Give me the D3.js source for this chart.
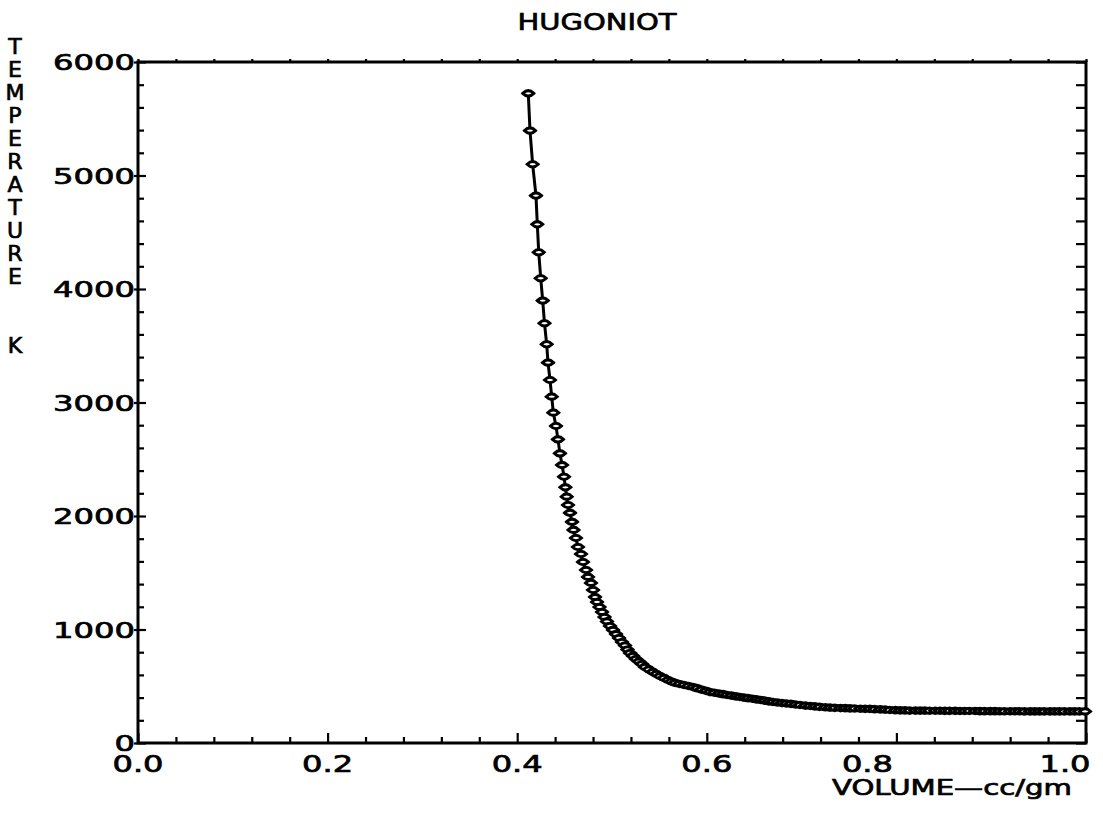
<!DOCTYPE html>
<html>
<head>
<meta charset="utf-8">
<script src="https://cdn.jsdelivr.net/npm/d3@7"></script>
<style>
  html, body { margin: 0; padding: 0; background: #fff; }
  svg { display: block; }
  text { font-family: "DejaVu Sans", "Liberation Sans", sans-serif; fill: #000; stroke: #000; stroke-width: 0.7; }
</style>
</head>
<body>
<svg id="chart" width="1103" height="823"></svg>
<script>
// ---- data ----
const title = "HUGONIOT";
const yLabel = "TEMPERATURE  K";
const xLabel = "VOLUME\u2014cc/gm";

const xMajorTicks = [0.0, 0.2, 0.4, 0.6, 0.8, 1.0];
const xTickLabels = ["0.0", "0.2", "0.4", "0.6", "0.8", "1.0"];
const yMajorTicks = [0, 1000, 2000, 3000, 4000, 5000, 6000];
const yTickLabels = ["0", "1000", "2000", "3000", "4000", "5000", "6000"];

// Volume (cc/gm) of each plotted point
const volume = [
  0.4117, 0.4135, 0.4163, 0.4198, 0.4212, 0.4227, 0.4248, 0.4269, 0.4288, 0.4311,
  0.4325, 0.4346, 0.4364, 0.4381, 0.4409, 0.4430, 0.4451, 0.4473, 0.4494, 0.4508,
  0.4522, 0.4536, 0.4557, 0.4578, 0.4594, 0.4620, 0.4641, 0.4673, 0.4694, 0.4726,
  0.4747, 0.4778, 0.4800, 0.4821, 0.4842, 0.4868, 0.4895, 0.4921, 0.4947, 0.4979,
  0.5011, 0.5042, 0.5074, 0.5105, 0.5137, 0.5163, 0.5190, 0.5222, 0.5253, 0.5285,
  0.5316, 0.5348, 0.5390, 0.5432, 0.5469, 0.5506, 0.5549, 0.5591, 0.5628, 0.5665,
  0.5712, 0.5759, 0.5807, 0.5854, 0.5897, 0.5944, 0.5992, 0.6034, 0.6081, 0.6129,
  0.6171, 0.6213, 0.6261, 0.6308, 0.6350, 0.6392, 0.6435, 0.6482, 0.6524, 0.6566,
  0.6609, 0.6656, 0.6698, 0.6746, 0.6793, 0.6841, 0.6888, 0.6936, 0.6983, 0.704,
  0.709, 0.714, 0.719, 0.725, 0.730, 0.735, 0.741, 0.746, 0.751, 0.756,
  0.762, 0.767, 0.772, 0.777, 0.783, 0.788, 0.793, 0.799, 0.804, 0.809,
  0.814, 0.820, 0.825, 0.830, 0.835, 0.841, 0.846, 0.851, 0.856, 0.862,
  0.867, 0.872, 0.877, 0.883, 0.888, 0.893, 0.899, 0.904, 0.909, 0.914,
  0.920, 0.925, 0.930, 0.935, 0.941, 0.946, 0.951, 0.956, 0.962, 0.967,
  0.972, 0.977, 0.983, 0.988, 0.993, 0.999
];
// Temperature (K) of each plotted point
const temperature = [
  5724, 5395, 5099, 4823, 4570, 4324, 4095, 3898, 3698, 3513,
  3351, 3198, 3051, 2910, 2793, 2675, 2552, 2449, 2346, 2253,
  2170, 2097, 2027, 1948, 1877, 1806, 1727, 1665, 1595, 1524,
  1463, 1410, 1348, 1286, 1242, 1198, 1154, 1110, 1071, 1031,
  996, 960, 925, 890, 859, 824, 793, 767, 740, 718,
  696, 670, 648, 626, 608, 590, 573, 555, 542, 529,
  520, 511, 502, 493, 483, 471, 460, 449, 443, 436,
  430, 423, 417, 411, 405, 400, 395, 390, 384, 379,
  374, 367, 361, 357, 352, 348, 344, 339, 335, 330,
  326, 323, 318, 315, 312, 310, 308, 307, 305, 304,
  302, 301, 300, 298, 296, 294, 291, 289, 288, 287,
  286, 286, 285, 285, 284, 284, 284, 283, 283, 283,
  282, 282, 282, 282, 281, 281, 281, 281, 280, 280,
  280, 280, 280, 279, 279, 279, 279, 279, 279, 278,
  278, 278, 278, 278, 278, 278
];

// ---- drawing ----
const svg = d3.select("#chart");
const W = 1103, H = 823;
const margin = { left: 138, right: W - 1086, top: 62, bottom: H - 743 };

const x = d3.scaleLinear().domain([0, 1]).range([margin.left, W - margin.right]);
const y = d3.scaleLinear().domain([0, 6000]).range([H - margin.bottom, margin.top]);

const xMinor = d3.range(0, 26).map(i => i * 0.04).filter(v => !xMajorTicks.some(m => Math.abs(m - v) < 1e-9));
const yMinor = d3.range(0, 31).map(i => i * 200).filter(v => v % 1000 !== 0);
const yAll = d3.range(0, 31).map(i => i * 200);
const xAll = d3.range(0, 26).map(i => i * 0.04);

const axisStyle = g => {
  g.select(".domain").remove();
  g.selectAll(".tick line").attr("stroke", "#000").attr("stroke-width", 2.2);
  g.selectAll(".tick text").remove();
};

// bottom axis ticks (inward)
svg.append("g").attr("transform", `translate(0,${y(0)})`)
  .call(d3.axisBottom(x).tickValues(xMinor).tickSize(-6).tickFormat(""))
  .call(axisStyle);
svg.append("g").attr("transform", `translate(0,${y(0)})`)
  .call(d3.axisBottom(x).tickValues(xMajorTicks).tickSize(-10).tickFormat(""))
  .call(axisStyle);
// top axis small ticks
svg.append("g").attr("transform", `translate(0,${y(6000)})`)
  .call(d3.axisTop(x).tickValues(xAll).tickSize(3).tickFormat(""))
  .call(axisStyle);
// left axis ticks
svg.append("g").attr("transform", `translate(${x(0)},0)`)
  .call(d3.axisLeft(y).tickValues(yMinor).tickSize(-6).tickFormat(""))
  .call(axisStyle);
svg.append("g").attr("transform", `translate(${x(0) + 8},0)`)
  .call(d3.axisLeft(y).tickValues(yMajorTicks).tickSize(12).tickFormat(""))
  .call(axisStyle);
// right axis ticks (inward)
svg.append("g").attr("transform", `translate(${x(1)},0)`)
  .call(d3.axisRight(y).tickValues(yAll).tickSize(-10).tickFormat(""))
  .call(axisStyle);

// frame
svg.append("rect")
  .attr("x", x(0)).attr("y", y(6000))
  .attr("width", x(1) - x(0)).attr("height", y(0) - y(6000))
  .attr("fill", "none").attr("stroke", "#000").attr("stroke-width", 3);

// tick labels
const charW = 20.5;
svg.append("g").selectAll("text").data(yMajorTicks).join("text")
  .attr("x", x(0) - 3)
  .attr("y", d => y(d) + 8)
  .attr("text-anchor", "end")
  .attr("font-size", 22)
  .attr("textLength", (d, i) => yTickLabels[i].length * charW)
  .attr("lengthAdjust", "spacingAndGlyphs")
  .text((d, i) => yTickLabels[i]);

// x tick labels: the plotter pulls the last labels left of their ticks
const xLabW = 51;
const xLabelX = d => d < 0.7 ? x(d) : (d < 0.9 ? x(d) - 29 : x(d) - 21);
svg.append("g").selectAll("text").data(xMajorTicks).join("text")
  .attr("x", xLabelX)
  .attr("y", 772)
  .attr("text-anchor", "middle")
  .attr("font-size", 23)
  .attr("textLength", xLabW)
  .attr("lengthAdjust", "spacingAndGlyphs")
  .text((d, i) => xTickLabels[i]);

// title
svg.append("text")
  .attr("x", 597).attr("y", 30)
  .attr("text-anchor", "middle")
  .attr("font-size", 23)
  .attr("textLength", 159)
  .attr("lengthAdjust", "spacingAndGlyphs")
  .text(title);

// x label
svg.append("text")
  .attr("x", 832).attr("y", 795)
  .attr("font-size", 21)
  .attr("textLength", 240)
  .attr("lengthAdjust", "spacingAndGlyphs")
  .text(xLabel);

// y label, stacked letters
svg.append("text")
  .attr("text-anchor", "middle")
  .attr("font-size", 22)
  .selectAll("tspan").data(yLabel.split("")).join("tspan")
  .attr("x", 15)
  .attr("y", (d, i) => 54 + i * 23)
  .text(d => d);

// data line and markers
const pts = volume.map((v, i) => ({ v, t: temperature[i] }));
svg.append("path")
  .datum(pts)
  .attr("fill", "none").attr("stroke", "#000").attr("stroke-width", 3)
  .attr("d", d3.line().x(d => x(d.v)).y(d => y(d.t)));

const markerPath = "M-5.5,0 Q0,-5.5 5.5,0 Q0,5.5 -5.5,0 Z";
svg.append("g").selectAll("path").data(pts).join("path")
  .attr("transform", d => `translate(${x(d.v)},${y(d.t)})`)
  .attr("d", markerPath)
  .attr("fill", "#fff").attr("stroke", "#000").attr("stroke-width", 3);
</script>
</body>
</html>
